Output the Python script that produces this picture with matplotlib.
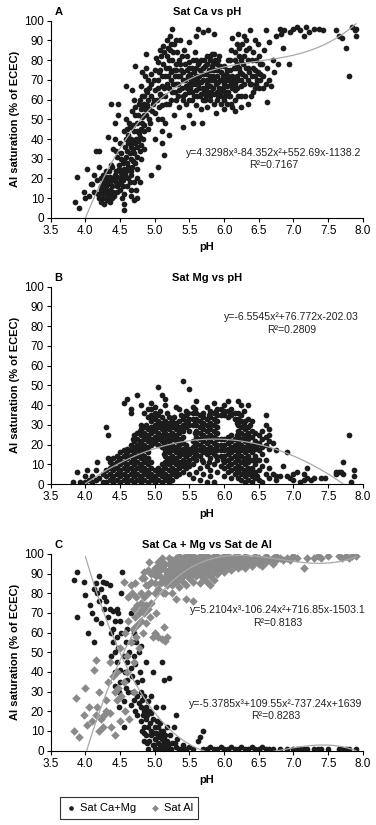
import numpy as np
import matplotlib
matplotlib.use('Agg')
import matplotlib.pyplot as plt
from matplotlib import font_manager as fm

# font: narrow sans if there is one
names = {f.name for f in fm.fontManager.ttflist}
fam = 'Liberation Sans Narrow' if 'Liberation Sans Narrow' in names else 'Liberation Sans'
plt.rcParams['font.family'] = [fam, 'DejaVu Sans']

# panel A - Sat Ca vs pH (pH, [values])
ca_cols = [
    (3.85, [8]), (3.88, [21]), (3.90, [5]), (3.98, [13]), (4.00, [10]), (4.02, [25]),
    (4.05, [11]), (4.08, [17]), (4.10, [17]), (4.12, [13]), (4.13, [22]), (4.15, [34]),
    (4.17, [19]), (4.18, [12]), (4.20, [34, 26, 10]), (4.22, [14, 8]), (4.25, [18, 12]),
    (4.27, [7]), (4.28, [20, 15]), (4.30, [24, 16]), (4.32, [18]), (4.33, [41, 11]),
    (4.35, [21, 17, 14]), (4.37, [58, 27]), (4.38, [10]), (4.40, [35, 19, 13]),
    (4.42, [48, 22]), (4.43, [40]), (4.45, [31, 16]), (4.47, [52, 58]), (4.48, [25]),
    (4.50, [38, 20, 14]), (4.52, [30, 18]), (4.53, [10]), (4.55, [4, 7, 12, 21, 25]),
    (4.57, [22, 36]), (4.58, [40, 67]), (4.60, [45, 34, 28, 16]), (4.62, [20, 42]),
    (4.63, [48]), (4.65, [36, 30, 22, 11]), (4.67, [54, 65, 26]), (4.68, [38]),
    (4.70, [60, 44, 33, 18, 9]), (4.72, [77, 52, 28]), (4.73, [40, 14]),
    (4.75, [48, 36, 25, 10]), (4.77, [58, 43]), (4.78, [18]), (4.80, [67, 55, 45, 37, 30]),
    (4.82, [74, 62, 51]), (4.83, [40]), (4.85, [58, 47, 35]), (4.87, [83, 65]),
    (4.88, [52, 76]), (4.90, [60, 70, 45]), (4.92, [55]), (4.93, [48]), (4.95, [22, 68]),
    (4.97, [58]), (5.00, [65, 53, 75, 40]), (5.02, [81]), (5.03, [60]), (5.05, [70, 50, 26]),
    (5.07, [85, 63]), (5.08, [75]), (5.10, [67, 57, 44, 38]), (5.12, [87, 78]), (5.13, [32]),
    (5.15, [72, 62, 48]), (5.17, [90, 82]), (5.18, [68]), (5.20, [76, 58, 42]),
    (5.22, [92, 85]), (5.23, [70]), (5.25, [96, 80, 64]), (5.27, [75]), (5.28, [88, 52]),
    (5.30, [78, 68, 60]), (5.32, [84]), (5.33, [72]), (5.35, [80, 65, 56]), (5.37, [90]),
    (5.38, [75]), (5.40, [70, 62, 46]), (5.42, [85]), (5.43, [78]), (5.45, [67, 58]),
    (5.47, [82]), (5.48, [72]), (5.50, [76, 64, 52, 89]), (5.52, [70]), (5.53, [60]),
    (5.55, [80, 68, 48]), (5.57, [74]), (5.58, [84]), (5.60, [72, 65, 57, 92]),
    (5.62, [78, 96]), (5.63, [68]), (5.65, [75, 62]), (5.67, [80, 55]), (5.68, [48]),
    (5.70, [73, 66, 94]), (5.72, [77, 60]), (5.75, [82, 70, 56]), (5.77, [95]),
    (5.78, [75, 64]), (5.80, [80, 72, 67, 60]), (5.82, [83, 77]), (5.83, [70]),
    (5.85, [75, 63, 93]), (5.87, [80]), (5.88, [68, 53]), (5.90, [78, 72, 60]), (5.92, [82]),
    (5.93, [66]), (5.95, [74, 62]), (5.97, [70]), (6.00, [77, 68, 60, 55]), (6.02, [73]),
    (6.03, [64]), (6.05, [80, 70]), (6.07, [62]), (6.08, [75]), (6.10, [85, 68, 58]),
    (6.12, [91, 72]), (6.15, [80, 65, 54]), (6.17, [76]), (6.18, [88]), (6.20, [70, 62, 93]),
    (6.22, [82]), (6.23, [74]), (6.25, [67, 56]), (6.27, [78]), (6.28, [92]), (6.30, [72, 62]),
    (6.32, [85]), (6.35, [76, 58]), (6.37, [68]), (6.38, [95]), (6.40, [80, 72]), (6.42, [64]),
    (6.45, [90, 75]), (6.47, [70]), (6.50, [82, 66]), (6.52, [73]), (6.55, [78]), (6.57, [85]),
    (6.60, [95, 68]), (6.62, [59, 76]), (6.65, [89, 70]), (6.67, [67]), (6.70, [80]),
    (6.72, [74]), (6.75, [92]), (6.78, [78]), (6.80, [96]), (6.82, [93]), (6.85, [86]),
    (6.87, [95]), (6.93, [78]), (6.95, [94]), (7.00, [96]), (7.05, [97]), (7.10, [95]),
    (7.15, [92]), (7.18, [97]), (7.22, [94]), (7.30, [96]), (7.37, [96]), (7.42, [95]),
    (7.62, [95]), (7.65, [92]), (7.70, [91]), (7.75, [86]), (7.80, [72]), (7.85, [97]),
    (7.88, [95]), (7.90, [92, 96]),
    # denser parts of the cloud
    (4.23, [20, 16]), (4.26, [22, 10]), (4.29, [13]), (4.31, [21, 9]), (4.34, [24, 12]),
    (4.36, [19, 8]), (4.39, [16, 26]), (4.41, [11, 20]), (4.44, [18, 24, 34]),
    (4.46, [21, 13]), (4.49, [27, 17]), (4.51, [23, 33]), (4.54, [16, 19, 28]),
    (4.56, [29, 44]), (4.59, [24, 31, 50]), (4.61, [38, 26]), (4.64, [33, 46, 18]),
    (4.66, [40, 24, 14]), (4.69, [35, 47, 29]), (4.71, [38, 56]), (4.74, [31, 44, 20]),
    (4.76, [39, 52]), (4.79, [41, 60, 34]), (4.81, [48, 57]), (4.84, [44, 52, 62]),
    (4.86, [55, 72]), (4.89, [57, 64]), (4.91, [50, 66]), (4.94, [62, 73]), (4.96, [54]),
    (4.99, [60, 70]), (5.04, [66, 79]), (5.06, [56, 74]), (5.09, [62, 82]), (5.11, [72, 50]),
    (5.14, [66, 84]), (5.16, [76, 58]), (5.19, [72, 86]), (5.21, [66, 80]),
    (5.24, [74, 60, 88]), (5.26, [68, 84]), (5.29, [72, 64]), (5.31, [75, 90]),
    (5.34, [68, 62]), (5.36, [72, 78]), (5.39, [66, 82]), (5.41, [74, 60]), (5.44, [70, 63]),
    (5.46, [75, 66]), (5.49, [68, 60, 79]), (5.51, [73, 66]), (5.54, [76, 64, 71]),
    (5.56, [70, 62]), (5.59, [68, 76, 80]), (5.61, [70, 62]), (5.64, [72, 66, 79]),
    (5.66, [69, 63]), (5.69, [76, 70, 60]), (5.71, [80, 64]), (5.74, [73, 66, 62]),
    (5.76, [78, 68]), (5.79, [82, 70, 62]), (5.81, [75, 64]), (5.84, [79, 72, 66]),
    (5.86, [83, 70, 58]), (5.89, [75, 64]), (5.91, [80, 69, 62]), (5.94, [77, 70]),
    (5.96, [64, 58]), (5.99, [72, 66]), (6.01, [62, 70]), (6.04, [75, 67, 58]),
    (6.06, [72, 64]), (6.09, [80, 70, 62]), (6.11, [66, 56]), (6.14, [76, 70]),
    (6.16, [84, 68, 60]), (6.19, [78, 72, 66]), (6.21, [86, 76]), (6.24, [80, 70, 62]),
    (6.26, [88, 73]), (6.29, [82, 68]), (6.31, [76, 90]), (6.34, [80, 70]), (6.36, [86, 74]),
    (6.39, [68, 62]), (6.41, [76, 84]), (6.44, [72, 66]), (6.46, [80, 68]), (6.49, [74, 88]),
    (6.51, [70, 78]), (6.56, [72, 66]),
]

# panel B - Sat Mg vs pH
mg_cols = [
    (3.82, [1]), (3.88, [6]), (3.92, [1]), (4.00, [4, 1]), (4.02, [7]), (4.05, [2]),
    (4.10, [4, 1]), (4.15, [7, 2]), (4.17, [11]), (4.20, [3]), (4.25, [1, 5]),
    (4.30, [1, 4, 7, 29]), (4.33, [13, 25]), (4.35, [2, 5, 8, 11]), (4.40, [1, 4, 7, 10, 13]),
    (4.45, [2, 5, 8, 11, 14]), (4.50, [1, 4, 7, 10, 13, 16]), (4.55, [2, 5, 8, 11, 14, 17, 41]),
    (4.60, [1, 4, 7, 10, 13, 16, 18, 43]), (4.65, [2, 5, 8, 11, 14, 17, 20, 36, 38]),
    (4.70, [1, 4, 7, 10, 13, 16, 19, 22, 25]), (4.75, [2, 5, 8, 11, 14, 17, 20, 23, 26, 45]),
    (4.80, [1, 4, 7, 10, 13, 16, 19, 22, 25, 28, 30, 40]),
    (4.85, [2, 5, 8, 11, 14, 17, 20, 23, 26, 29, 36]),
    (4.90, [1, 4, 7, 10, 13, 16, 19, 22, 25, 28, 34, 38]),
    (4.95, [2, 5, 8, 11, 20, 23, 26, 29, 32, 35, 38, 41]),
    (5.00, [1, 4, 7, 21, 24, 27, 30, 33, 36, 39]),
    (5.05, [2, 5, 8, 20, 23, 26, 29, 32, 35, 49]),
    (5.10, [1, 4, 7, 10, 19, 22, 25, 28, 31, 34, 45]),
    (5.15, [2, 5, 8, 11, 14, 17, 20, 23, 26, 29, 32, 40, 43]),
    (5.20, [1, 4, 7, 10, 13, 16, 19, 22, 25, 28, 31, 34]),
    (5.25, [2, 5, 8, 11, 14, 17, 20, 23, 26, 29, 32]),
    (5.30, [4, 7, 10, 13, 16, 19, 22, 25, 28, 31, 39]),
    (5.35, [5, 8, 11, 14, 17, 20, 23, 26, 29, 32, 38]),
    (5.40, [6, 9, 12, 15, 18, 21, 24, 27, 30, 33, 52]),
    (5.45, [8, 11, 14, 17, 20, 29, 32, 35, 37]),
    (5.50, [5, 9, 12, 15, 18, 27, 30, 33, 48]),
    (5.55, [3, 10, 13, 16, 19, 22, 30, 33, 36, 39]),
    (5.60, [6, 12, 15, 18, 21, 24, 27, 30, 33, 36, 42]),
    (5.65, [2, 8, 14, 17, 20, 23, 26, 29, 32, 35]),
    (5.70, [5, 11, 16, 19, 22, 25, 28, 31, 34, 36]),
    (5.75, [1, 9, 15, 18, 21, 24, 27, 30, 33, 39]),
    (5.80, [4, 7, 13, 16, 19, 22, 25, 28, 31, 34, 37]),
    (5.85, [1, 10, 15, 18, 21, 24, 27, 30, 33, 36, 41]),
    (5.90, [6, 12, 17, 20, 23, 26, 29, 32, 35, 38]),
    (5.95, [9, 14, 17, 20, 23, 35, 38]),
    (6.00, [4, 8, 11, 14, 17, 20, 23, 35, 37, 40]),
    (6.05, [6, 9, 12, 15, 18, 21, 24, 34, 37, 42]),
    (6.10, [3, 7, 10, 13, 16, 19, 22, 25, 35, 38]),
    (6.15, [5, 8, 11, 14, 17, 20, 23, 33, 36]),
    (6.20, [3, 6, 9, 12, 15, 18, 21, 24, 27, 30, 33, 36, 42]),
    (6.25, [2, 5, 8, 11, 14, 17, 20, 23, 26, 29, 32, 35, 40]),
    (6.30, [1, 4, 7, 10, 13, 16, 19, 22, 25, 28, 32]),
    (6.35, [2, 5, 8, 11, 14, 17, 20, 23, 26, 29, 33, 40]),
    (6.40, [1, 4, 8, 12, 16, 20, 24, 27, 32]), (6.45, [3, 6, 10, 14, 18, 22, 26]),
    (6.50, [2, 7, 12, 17, 21, 25]), (6.55, [1, 9, 15, 19, 23, 27]),
    (6.60, [5, 12, 20, 24, 30, 35]), (6.65, [3, 8, 18, 22, 25, 28]), (6.70, [5, 21]),
    (6.75, [2, 4, 17]), (6.80, [4]), (6.85, [9]), (6.90, [4, 16]), (6.95, [3]),
    (7.00, [2, 5]), (7.05, [6]), (7.10, [1]), (7.15, [2, 5]), (7.20, [3, 8]), (7.25, [2]),
    (7.30, [3]), (7.40, [3]), (7.45, [3]), (7.62, [5, 6]), (7.65, [6]), (7.68, [6]),
    (7.72, [11, 5]), (7.80, [25]), (7.83, [1]), (7.87, [4, 7]),
    # in-between columns of the dense band
    (4.38, [3, 9]), (4.48, [6, 12]), (4.58, [3, 9, 15]), (4.68, [6, 12, 18, 23]),
    (4.78, [3, 9, 15, 21, 27]), (4.88, [6, 12, 18, 24, 30]), (4.98, [3, 22, 28, 34]),
    (5.08, [6, 24, 30, 37]), (5.13, [9, 15, 21, 27]), (5.18, [3, 12, 18, 24, 30, 36]),
    (5.28, [6, 12, 18, 24, 30, 34]), (5.38, [10, 16, 22, 28, 35]),
    (5.48, [10, 16, 31, 36]), (5.58, [14, 20, 26, 32, 38]), (5.68, [12, 18, 24, 30]),
    (5.78, [11, 17, 23, 29, 35]), (5.88, [14, 20, 26, 32, 37]), (5.98, [12, 18, 36]),
    (6.08, [10, 16, 22, 36]), (6.18, [7, 13, 19, 25, 31]), (6.28, [6, 12, 18, 24, 30, 37]),
    (6.38, [6, 12, 18, 24, 30]), (6.48, [4, 12, 20]),
]

# panel C - Sat Ca+Mg (black) and Sat Al (grey)
camg_cols = [
    (3.83, [87]), (3.88, [91, 68]), (3.98, [86]), (4.00, [79]), (4.03, [60]), (4.07, [74]),
    (4.10, [70]), (4.12, [82]), (4.13, [55]), (4.15, [85, 67]), (4.17, [80]),
    (4.20, [89, 76]), (4.22, [65, 82]), (4.25, [86]), (4.27, [78, 72]), (4.30, [85, 76]),
    (4.32, [68]), (4.35, [84, 72]), (4.37, [60, 48]), (4.40, [71, 62, 55]),
    (4.42, [66, 50, 40]), (4.43, [33]), (4.45, [72, 58, 45]), (4.47, [70, 52]),
    (4.48, [30, 22]), (4.50, [66, 41, 35]), (4.52, [80, 60]), (4.53, [91]),
    (4.55, [48, 12, 25]), (4.57, [40]), (4.58, [55, 32]), (4.60, [62, 45, 36]),
    (4.62, [78, 30]), (4.63, [50]), (4.65, [70, 42, 23]), (4.67, [55, 38]), (4.68, [30]),
    (4.70, [60, 48, 26]), (4.72, [44, 20]), (4.73, [55]), (4.75, [35, 28, 18]),
    (4.77, [50, 24]), (4.78, [40]), (4.80, [30, 22, 15, 53]), (4.82, [36, 26, 10]),
    (4.83, [18]), (4.85, [28, 12, 5]), (4.87, [22, 45]), (4.88, [16, 8]), (4.90, [25, 12, 1]),
    (4.92, [20, 5]), (4.93, [14]), (4.95, [28, 10]), (4.97, [40, 16, 3]), (5.00, [12, 6, 1]),
    (5.02, [22, 9]), (5.03, [15]), (5.05, [4, 12]), (5.07, [8, 2]), (5.08, [14]),
    (5.10, [45, 6, 1]), (5.12, [22, 10]), (5.13, [36, 4]), (5.15, [8, 2]), (5.17, [12]),
    (5.18, [5]), (5.20, [37, 1]), (5.22, [8]), (5.25, [4]), (5.27, [12]), (5.30, [18, 2]),
    (5.32, [6]), (5.35, [1]), (5.40, [3]), (5.45, [1]), (5.50, [2]), (5.55, [1]),
    (5.62, [5]), (5.65, [7]), (5.70, [10, 1]), (5.75, [1]), (5.80, [2]), (5.85, [1]),
    (5.90, [1]), (5.95, [2]), (6.00, [1]), (6.05, [1]), (6.10, [2]), (6.15, [1]),
    (6.20, [1]), (6.25, [2]), (6.30, [1]), (6.35, [1]), (6.40, [2]), (6.45, [1]),
    (6.50, [1]), (6.55, [2]), (6.60, [1]), (6.65, [1]), (6.70, [1]), (6.80, [1]),
    (6.90, [1]), (7.00, [1]), (7.05, [1]), (7.10, [1]), (7.15, [1]), (7.20, [1]),
    (7.30, [1]), (7.35, [1]), (7.40, [1]), (7.50, [1]), (7.65, [1]), (7.70, [1]),
    (7.75, [1]), (7.80, [1]), (7.90, [1]),
    (4.84, [20, 9]), (4.89, [18, 4]), (4.94, [8, 19]), (4.99, [9, 3]), (5.04, [7, 1]),
    (5.09, [10, 3]), (5.14, [6, 1]), (5.19, [3]), (5.24, [1]), (5.29, [4]), (5.38, [1]),
]

al_cols = [
    (3.83, [10]), (3.87, [27]), (3.90, [7]), (3.98, [18]), (4.00, [32]), (4.02, [13]),
    (4.05, [22]), (4.10, [15]), (4.13, [41]), (4.15, [18, 46]), (4.17, [22]),
    (4.20, [30, 10]), (4.22, [16]), (4.25, [12]), (4.27, [18]), (4.30, [26, 20]),
    (4.32, [35]), (4.35, [45, 19]), (4.37, [12]), (4.40, [38]), (4.42, [30, 8]),
    (4.45, [26, 40]), (4.47, [32]), (4.50, [15, 52]), (4.52, [28]), (4.55, [86, 35]),
    (4.57, [60, 20]), (4.60, [48, 40]), (4.62, [78, 66]), (4.63, [16]), (4.65, [55, 84]),
    (4.67, [80]), (4.68, [62]), (4.70, [72, 45, 30]), (4.72, [85, 68]), (4.73, [78, 58]),
    (4.75, [74, 64]), (4.77, [70, 52]), (4.80, [80, 75, 66]), (4.82, [72, 88]), (4.83, [60]),
    (4.85, [78, 70, 91, 88]), (4.87, [74]), (4.88, [84, 65]), (4.90, [80, 72, 84, 92]),
    (4.92, [96]), (4.93, [68]), (4.95, [86, 75, 90]), (4.97, [58]), (5.00, [92, 80, 60, 85, 93]),
    (5.02, [89, 70]), (5.05, [58, 96, 82, 90, 94]), (5.07, [85]), (5.08, [92]),
    (5.10, [98, 88, 57, 86, 93, 96]), (5.12, [80]), (5.13, [63]), (5.15, [95, 56, 80, 88, 92]),
    (5.17, [90, 58]), (5.18, [84]), (5.20, [86, 89, 92, 95, 98]),
    (5.25, [80, 84, 88, 91, 94, 97]), (5.30, [77, 86, 89, 92, 95, 98]),
    (5.35, [83, 88, 91, 94, 97, 99]), (5.40, [86, 89, 92, 95, 98]),
    (5.45, [77, 84, 90, 93, 96, 99]), (5.50, [88, 91, 94, 97, 99]),
    (5.55, [76, 86, 90, 93, 96, 99]), (5.60, [89, 92, 95, 98]), (5.65, [85, 90, 93, 96, 99]),
    (5.70, [88, 91, 94, 97, 99]), (5.75, [86, 90, 93, 96, 99]), (5.80, [84, 89, 92, 95, 98]),
    (5.85, [87, 91, 94, 97, 99]), (5.90, [90, 93, 96, 99]), (5.95, [92, 95, 98]),
    (6.00, [91, 94, 97, 99]), (6.05, [93, 96, 99]), (6.10, [92, 95, 98]), (6.15, [94, 97, 99]),
    (6.20, [93, 96, 99]), (6.25, [94, 97]), (6.30, [93, 96, 99]), (6.35, [95, 98]),
    (6.40, [94, 97]), (6.45, [96, 99]), (6.50, [95, 98]), (6.55, [94, 97]), (6.60, [96, 99]),
    (6.65, [97]), (6.70, [95, 98]), (6.75, [97, 99]), (6.80, [98]), (6.85, [97]), (6.90, [98]),
    (6.95, [97]), (7.00, [99]), (7.05, [98]), (7.15, [93]), (7.20, [98]), (7.30, [98]),
    (7.35, [99]), (7.40, [98]), (7.50, [99]), (7.65, [99]), (7.70, [98]), (7.75, [99]),
    (7.80, [98]), (7.85, [99]), (7.90, [99]),
]

# trend line coefficients as printed on the chart (highest power first)
coef_ca = [4.3298, -84.352, 552.69, -1138.2]
coef_mg = [-6.5545, 76.772, -202.03]
coef_al = [5.2104, -106.24, 716.85, -1503.1]
coef_camg = [-5.3785, 109.55, -737.24, 1639]

eq_ca = ('y=4.3298x³-84.352x²+552.69x-1138.2', 'R²=0.7167')
eq_mg = ('y=-6.5545x²+76.772x-202.03', 'R²=0.2809')
eq_al = ('y=5.2104x³-106.24x²+716.85x-1503.1', 'R²=0.8183')
eq_camg = ('y=-5.3785x³+109.55x²-737.24x+1639', 'R²=0.8283')


def flat(cols):
    xs = [p for p, vals in cols for v in vals]
    ys = [v for p, vals in cols for v in vals]
    return np.array(xs), np.array(ys)


def style(ax, letter, title):
    ax.set_xlim(3.5, 8.0)
    ax.set_ylim(0, 100)
    ax.set_xticks(np.arange(3.5, 8.01, 0.5))
    ax.set_xticklabels(['%.1f' % t for t in np.arange(3.5, 8.01, 0.5)])
    ax.set_yticks(range(0, 101, 10))
    ax.spines['top'].set_visible(False)
    ax.spines['right'].set_visible(False)
    for s in ('left', 'bottom'):
        ax.spines[s].set_linewidth(0.8)
    ax.tick_params(direction='out', length=3, width=0.8, labelsize=8.5, pad=2)
    ax.set_xlabel('pH', fontsize=8, fontweight='bold', labelpad=4)
    ax.set_ylabel('Al saturation (% of ECEC)', fontsize=8, fontweight='bold', labelpad=3)
    ax.set_title(title, fontsize=8, fontweight='bold', pad=4)
    ax.text(0.012, 1.02, letter, transform=ax.transAxes, fontsize=8, fontweight='bold',
            va='bottom', ha='left')


def trend(ax, coef, x0, x1):
    xx = np.linspace(x0, x1, 200)
    ax.plot(xx, np.polyval(coef, xx), color='#a8a8a8', lw=0.9, zorder=3)


def eq(ax, x, y, lines):
    ax.text(x, y, lines[0], ha='center', va='center', fontsize=7.6, color='#222222', zorder=5)
    ax.text(x, y - 6.3, lines[1], ha='center', va='center', fontsize=7.6, color='#222222', zorder=5)


fig = plt.figure(figsize=(3.76, 8.25), dpi=100)
dot = dict(s=17, c='#1c1c1c', marker='o', linewidths=0, zorder=2)
dia = dict(s=19, c='#8a8a8a', marker='D', linewidths=0, zorder=2)

ax1 = fig.add_axes([0.135, 0.7358, 0.83, 0.2392])
x, y = flat(ca_cols)
ax1.scatter(x, y, **dot)
trend(ax1, coef_ca, 4.0, 7.9)
eq(ax1, 6.72, 33, eq_ca)
style(ax1, 'A', 'Sat Ca vs pH')

ax2 = fig.add_axes([0.135, 0.4133, 0.83, 0.2392])
x, y = flat(mg_cols)
ax2.scatter(x, y, **dot)
trend(ax2, coef_mg, 4.0, 7.72)
eq(ax2, 6.97, 84.5, eq_mg)
style(ax2, 'B', 'Sat Mg vs pH')

ax3 = fig.add_axes([0.135, 0.0901, 0.83, 0.2384])
x, y = flat(camg_cols)
h1 = ax3.scatter(x, y, label='Sat Ca+Mg', **dot)
x, y = flat(al_cols)
h2 = ax3.scatter(x, y, label='Sat Al', **dia)
trend(ax3, coef_al, 4.0, 7.9)
trend(ax3, coef_camg, 4.0, 7.9)
eq(ax3, 6.78, 71.4, eq_al)
eq(ax3, 6.75, 23.7, eq_camg)
style(ax3, 'C', 'Sat Ca + Mg vs Sat de Al')

leg = fig.legend(handles=[h1, h2], loc='center', bbox_to_anchor=(129 / 376, 1 - 808 / 825),
                 ncol=2, fontsize=8, frameon=True, fancybox=False, edgecolor='black',
                 handletextpad=0.3, columnspacing=1.2, borderpad=0.5, markerscale=0.8,
                 handlelength=1.0)
leg.get_frame().set_linewidth(0.8)

fig.savefig('out.png', dpi=100)
